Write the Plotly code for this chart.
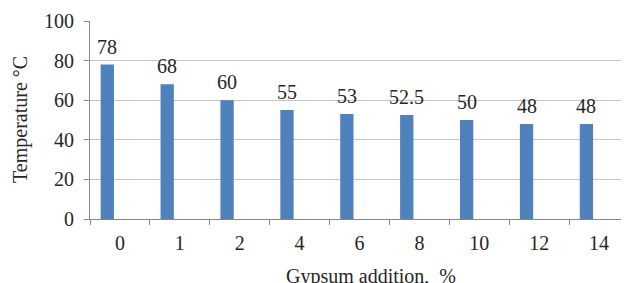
import plotly.graph_objects as go

categories = ["0", "1", "2", "4", "6", "8", "10", "12", "14"]
temperature = [78, 68, 60, 55, 53, 52.5, 50, 48, 48]
y_ticks = [0, 20, 40, 60, 80, 100]

FONT = "Liberation Serif, Times New Roman, serif"
TXT = "#262626"

# page body has an 8px default margin; size the figure to fill the rest
PAGE_OFF = 8
W, H = 629 - PAGE_OFF, 283 - PAGE_OFF
L, R, T, B = 90 - PAGE_OFF, 0, 21 - PAGE_OFF, 64
PW, PH = 629 - 90, 219 - 21

BAR_W = 0.222
BAR_OFF = -0.322
bar_center = BAR_OFF + BAR_W / 2  # in category units

fig = go.Figure()
fig.add_trace(go.Bar(
    x=categories,
    y=temperature,
    marker=dict(color="#4F81BD", line=dict(width=0)),
    width=BAR_W,
    offset=BAR_OFF,
    showlegend=False,
    hoverinfo="x+y",
))

annotations = []
for i, v in enumerate(temperature):
    annotations.append(dict(
        x=i + bar_center, y=v, xref="x", yref="y", text=f"{v:g}",
        xanchor="center", yanchor="bottom", showarrow=False,
        yshift=5,
        font=dict(family=FONT, size=20, color=TXT),
    ))

annotations += [
    dict(text="Gypsum addition,  %", xref="paper", yref="paper",
         x=(371 - 90) / PW, y=1 - (276 - 21) / PH,
         xanchor="center", yanchor="middle", showarrow=False,
         font=dict(family=FONT, size=20, color=TXT)),
    dict(text="Temperature °C", xref="paper", yref="paper",
         x=(20 - 90) / PW, y=0.5, textangle=-90,
         xanchor="center", yanchor="middle", showarrow=False,
         font=dict(family=FONT, size=20, color=TXT)),
]

fig.update_layout(
    width=W, height=H,
    margin=dict(l=L, r=R, t=T, b=B, autoexpand=False),
    paper_bgcolor="white",
    plot_bgcolor="white",
    font=dict(family=FONT, size=20, color=TXT),
    xaxis=dict(
        type="category",
        range=[-0.5, len(categories) - 0.5],
        automargin=False,
        showline=True, linecolor="#878787", linewidth=1,
        ticks="outside", ticklen=5, tickcolor="#878787",
        tickson="boundaries",
        showgrid=False,
        ticklabelstandoff=6,
        tickfont=dict(family=FONT, size=20, color=TXT),
    ),
    yaxis=dict(
        range=[0, 100],
        automargin=False,
        tickvals=y_ticks,
        showline=True, linecolor="#878787", linewidth=1,
        ticks="outside", ticklen=5, tickcolor="#878787",
        showgrid=True, gridcolor="#C4C4C4", gridwidth=1,
        zeroline=False,
        ticklabelstandoff=6,
        tickfont=dict(family=FONT, size=20, color=TXT),
    ),
    annotations=annotations,
)

fig.write_html("out.html")
